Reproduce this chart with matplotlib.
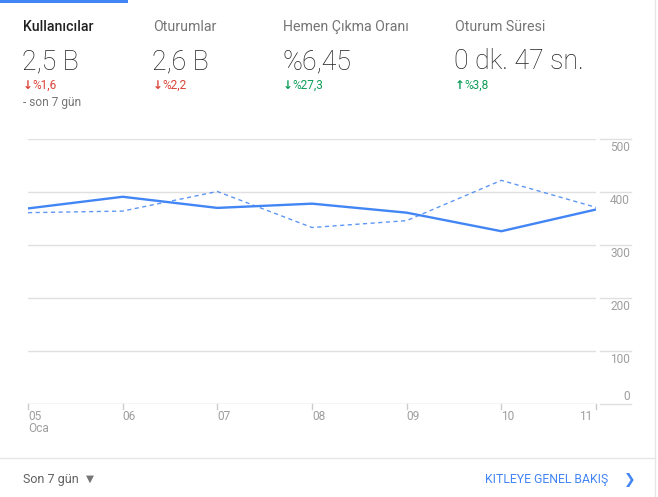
import numpy as np
import matplotlib
matplotlib.use("Agg")
import matplotlib.pyplot as plt
from matplotlib.transforms import blended_transform_factory

plt.rcParams['font.family'] = ['Roboto', 'DejaVu Sans']

# data read from the widget
days = ["05", "06", "07", "08", "09", "10", "11"]
users_now = [369, 391, 370, 378, 361, 326, 367]
users_prev = [361, 364, 401, 333, 346, 422, 371]
y_ticks = [0, 100, 200, 300, 400, 500]

metric_names = ["Kullanıcılar", "Oturumlar", "Hemen Çıkma Oranı", "Oturum Süresi"]
metric_values = ["2,5 B", "2,6 B", "%6,45", "0 dk. 47 sn."]
metric_changes = ["%1,6", "%2,2", "%27,3", "%3,8"]
change_up = [False, False, False, True]
change_good = [False, False, True, True]

W, H = 658, 497
BLUE = "#4285f4"
RED = "#db4437"
GREEN = "#0f9d58"
GRID = "#e0e0e0"
LABEL = "#9e9e9e"


def px(x, y):
    return x / W, 1 - y / H


fig = plt.figure(figsize=(W / 100, H / 100), dpi=100)

# top tab indicator, right border, bottom separator
fig.add_artist(plt.Rectangle(px(0, 3), 128 / W, 3 / H, color=BLUE, lw=0))
fig.add_artist(plt.Line2D([655 / W, 655 / W], [0, 1], color="#e6e6e6", lw=1))
fig.add_artist(plt.Line2D([0, 655 / W], [1 - 458 / H, 1 - 458 / H], color="#e6e6e6", lw=1))

# header metrics
xs = [23, 153, 283, 455]
for i, x in enumerate(xs):
    fig.text(*px(x, 31), metric_names[i], fontsize=10.2,
             color="#212121" if i == 0 else "#757575",
             fontweight="medium" if i == 0 else "normal", va="baseline")
    fig.text(*px(x - 1, 69), metric_values[i], fontsize=19.3, color="#212121",
             fontweight="light", va="baseline")
    col = GREEN if change_good[i] else RED
    arrow = "↑" if change_up[i] else "↓"
    fig.text(*px(x, 89), arrow, fontsize=8.5, color=col, fontweight="bold",
             va="baseline", family=["DejaVu Sans"])
    fig.text(*px(x + 9, 89), metric_changes[i], fontsize=8.6, color=col, va="baseline")

fig.text(*px(23, 106), "- son 7 gün", fontsize=8.6, color="#757575", va="baseline")

# chart
ax = fig.add_axes([28 / W, 1 - 404 / H, 568 / W, 265 / H])
x = np.arange(len(days))
ax.plot(x, users_prev, color=BLUE, lw=1, ls=(0, (3, 2.5)), alpha=0.85)
ax.plot(x, users_now, color=BLUE, lw=1.7, solid_joinstyle="miter")
ax.set_xlim(0, len(days) - 1)
ax.set_ylim(0, 500)
ax.set_xticks([])
ax.set_yticks([])
for s in ax.spines.values():
    s.set_visible(False)

for t in y_ticks:
    ax.axhline(t, color="#cccccc" if t == 0 else GRID, lw=1, zorder=0)
    y_pix = 404 - t * 265 / 500
    fig.add_artist(plt.Line2D([600 / W, 631 / W], [1 - y_pix / H] * 2, color=GRID, lw=1))
    base = y_pix - 4 if t == 0 else y_pix + 12
    fig.text(*px(630, base), str(t), fontsize=8.6, color=LABEL, ha="right", va="baseline")

tr = blended_transform_factory(ax.transData, fig.transFigure)
for i, d in enumerate(days):
    ax.plot([i, i], [1 - 404 / H, 1 - 409 / H], color="#cccccc", lw=1,
            transform=tr, clip_on=False)
    ha = "right" if i == len(days) - 1 else "left"
    off = -0.005 if i == len(days) - 1 else 0
    fig.text(ax.transData.transform((i, 0))[0] / W + off, 1 - 420 / H, d,
             fontsize=8.6, color=LABEL, ha=ha, va="baseline")
fig.text(28 / W, 1 - 432 / H, "Oca", fontsize=8.6, color=LABEL, va="baseline")

# footer
fig.text(*px(23, 483), "Son 7 gün", fontsize=9, color="#616161", va="baseline")
fig.text(*px(86, 482), "▼", fontsize=7.5, color="#757575", va="baseline",
         family=["DejaVu Sans"])
fig.text(*px(608, 483), "KITLEYE GENEL BAKIŞ", fontsize=8.8, color=BLUE,
         ha="right", va="baseline")
fig.text(*px(624, 484), "❯", fontsize=10, color=BLUE, va="baseline",
         family=["DejaVu Sans"])

fig.savefig("out.png", dpi=100, facecolor="white")
